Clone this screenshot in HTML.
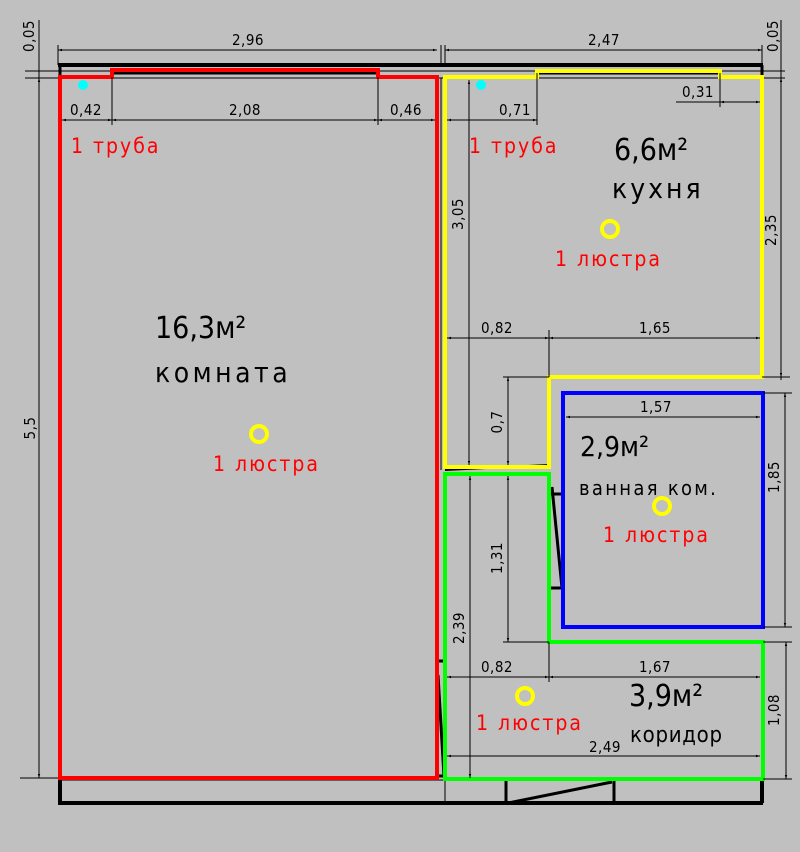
<!DOCTYPE html>
<html><head><meta charset="utf-8"><style>
html,body{margin:0;padding:0;background:#c0c0c0;}
svg{display:block}
text{font-family:"DejaVu Sans Condensed","DejaVu Sans","Liberation Sans",sans-serif;}
</style></head><body>
<svg width="800" height="852" viewBox="0 0 800 852" xmlns="http://www.w3.org/2000/svg">
<rect width="800" height="852" fill="#c0c0c0"/>
<defs>
<marker id="a" viewBox="0 0 10 10" refX="10" refY="5" markerWidth="7" markerHeight="4" orient="auto-start-reverse"><path d="M0,2 L10,5 L0,8z" fill="#000"/></marker>
</defs>
<g stroke="#000" fill="none">
<line x1="58" y1="65" x2="763" y2="65" stroke-width="4"/>
<line x1="25" y1="71" x2="785" y2="71" stroke-width="1"/>
<line x1="25" y1="78" x2="785" y2="78" stroke-width="1"/>
<line x1="60" y1="65" x2="60" y2="78" stroke-width="3"/>
<line x1="762" y1="65" x2="762" y2="78" stroke-width="3"/>
<line x1="112" y1="73" x2="378" y2="73" stroke-width="3"/>
<line x1="537" y1="73" x2="720" y2="73" stroke-width="3"/>
<line x1="58" y1="803" x2="763" y2="803" stroke-width="4"/>
<line x1="60" y1="778" x2="60" y2="803" stroke-width="4"/>
<line x1="762" y1="778" x2="762" y2="803" stroke-width="4"/>
<line x1="60" y1="780" x2="445" y2="780" stroke-width="1"/>
<line x1="445" y1="778" x2="445" y2="803" stroke-width="1"/>
<line x1="506" y1="780" x2="506" y2="803" stroke-width="3"/>
<line x1="614" y1="780" x2="614" y2="803" stroke-width="3"/>
<line x1="508" y1="803" x2="612" y2="782" stroke-width="3"/>
<line x1="438" y1="675" x2="444" y2="776" stroke-width="3"/>
<line x1="437" y1="661" x2="445" y2="661" stroke-width="3"/>
<line x1="437" y1="776" x2="445" y2="776" stroke-width="3"/>
<line x1="552" y1="487" x2="562" y2="588" stroke-width="3"/>
<line x1="549" y1="494" x2="563" y2="494" stroke-width="3"/>
<line x1="549" y1="588" x2="563" y2="588" stroke-width="3"/>
<line x1="445" y1="470" x2="549" y2="465" stroke-width="2"/>
<line x1="441" y1="78" x2="441" y2="470" stroke-width="1"/>
</g>
<path d="M60,778 V77 H112 V70 H378 V77 H437 V778 Z" fill="none" stroke="#ff0000" stroke-width="4"/>
<path d="M445,467 V77 H537 V71 H720 V77 H762 V377 H549 V467 Z" fill="none" stroke="#ffff00" stroke-width="4"/>
<rect x="563" y="393" width="200" height="234" fill="none" stroke="#0000ff" stroke-width="4"/>
<path d="M445,474 H549 V642 H763 V779 H445 Z" fill="none" stroke="#00ff00" stroke-width="4"/>
<g stroke="#000" stroke-width="1" fill="none">
<line x1="58" y1="50" x2="437" y2="50" marker-start="url(#a)" marker-end="url(#a)"/>
<line x1="445" y1="50" x2="762" y2="50" marker-start="url(#a)" marker-end="url(#a)"/>
<line x1="58" y1="45" x2="58" y2="65"/><line x1="441" y1="45" x2="441" y2="65"/><line x1="445" y1="45" x2="445" y2="65"/><line x1="762" y1="45" x2="762" y2="65"/>
<line x1="39" y1="20" x2="39" y2="778" /><line x1="781" y1="20" x2="781" y2="380"/>
<line x1="39" y1="78" x2="39" y2="778" marker-start="url(#a)" marker-end="url(#a)"/>
<line x1="20" y1="778" x2="58" y2="778"/>
<line x1="62" y1="120" x2="112" y2="120" marker-start="url(#a)" marker-end="url(#a)"/>
<line x1="112" y1="120" x2="378" y2="120" marker-start="url(#a)" marker-end="url(#a)"/>
<line x1="378" y1="120" x2="435" y2="120" marker-start="url(#a)" marker-end="url(#a)"/>
<line x1="112" y1="77" x2="112" y2="125"/><line x1="378" y1="77" x2="378" y2="125"/>
<line x1="447" y1="120" x2="537" y2="120" marker-start="url(#a)" marker-end="url(#a)"/>
<line x1="537" y1="73" x2="537" y2="125"/>
<line x1="720" y1="102" x2="760" y2="102" marker-start="url(#a)" marker-end="url(#a)"/>
<line x1="676" y1="102" x2="720" y2="102"/><line x1="720" y1="73" x2="720" y2="107"/>
<line x1="469" y1="80" x2="469" y2="338" marker-start="url(#a)"/>
<line x1="781" y1="78" x2="781" y2="377" marker-start="url(#a)" marker-end="url(#a)"/>
<line x1="762" y1="377" x2="790" y2="377"/>
<line x1="447" y1="338" x2="549" y2="338" marker-start="url(#a)" marker-end="url(#a)"/>
<line x1="549" y1="338" x2="760" y2="338" marker-start="url(#a)" marker-end="url(#a)"/>
<line x1="549" y1="330" x2="549" y2="377"/>
<line x1="469" y1="338" x2="469" y2="465" marker-end="url(#a)"/>
<line x1="508" y1="377" x2="508" y2="465" marker-start="url(#a)" marker-end="url(#a)"/>
<line x1="503" y1="377" x2="549" y2="377"/>
<line x1="508" y1="476" x2="508" y2="642" marker-start="url(#a)" marker-end="url(#a)"/>
<line x1="503" y1="642" x2="549" y2="642"/>
<line x1="470" y1="476" x2="470" y2="778" marker-start="url(#a)" marker-end="url(#a)"/>
<line x1="566" y1="417" x2="760" y2="417" marker-start="url(#a)" marker-end="url(#a)"/>
<line x1="785" y1="393" x2="785" y2="627" marker-start="url(#a)" marker-end="url(#a)"/>
<line x1="763" y1="393" x2="792" y2="393"/><line x1="763" y1="627" x2="792" y2="627"/>
<line x1="447" y1="677" x2="549" y2="677" marker-start="url(#a)" marker-end="url(#a)"/>
<line x1="549" y1="677" x2="760" y2="677" marker-start="url(#a)" marker-end="url(#a)"/>
<line x1="549" y1="642" x2="549" y2="682"/>
<line x1="447" y1="756" x2="760" y2="756" marker-start="url(#a)" marker-end="url(#a)"/>
<line x1="786" y1="642" x2="786" y2="779" marker-start="url(#a)" marker-end="url(#a)"/>
<line x1="763" y1="642" x2="792" y2="642"/><line x1="763" y1="779" x2="792" y2="779"/>
</g>
<g font-size="15" fill="#000" letter-spacing="0.5">
<text x="248" y="45" text-anchor="middle">2,96</text>
<text x="604" y="45" text-anchor="middle">2,47</text>
<text x="86" y="115" text-anchor="middle">0,42</text>
<text x="245" y="115" text-anchor="middle">2,08</text>
<text x="406" y="115" text-anchor="middle">0,46</text>
<text x="515" y="115" text-anchor="middle">0,71</text>
<text x="698" y="97" text-anchor="middle">0,31</text>
<text x="497" y="333" text-anchor="middle">0,82</text>
<text x="655" y="333" text-anchor="middle">1,65</text>
<text x="656" y="412" text-anchor="middle">1,57</text>
<text x="497" y="672" text-anchor="middle">0,82</text>
<text x="655" y="672" text-anchor="middle">1,67</text>
<text x="605" y="752" text-anchor="middle">2,49</text>
<text transform="translate(34,36) rotate(-90)" text-anchor="middle">0,05</text>
<text transform="translate(778,36) rotate(-90)" text-anchor="middle">0,05</text>
<text transform="translate(35,428) rotate(-90)" text-anchor="middle">5,5</text>
<text transform="translate(463,214) rotate(-90)" text-anchor="middle">3,05</text>
<text transform="translate(776,230) rotate(-90)" text-anchor="middle">2,35</text>
<text transform="translate(502,422) rotate(-90)" text-anchor="middle">0,7</text>
<text transform="translate(502,558) rotate(-90)" text-anchor="middle">1,31</text>
<text transform="translate(464,628) rotate(-90)" text-anchor="middle">2,39</text>
<text transform="translate(779,477) rotate(-90)" text-anchor="middle">1,85</text>
<text transform="translate(779,710) rotate(-90)" text-anchor="middle">1,08</text>
</g>
<g fill="#00ffff"><circle cx="83" cy="85" r="5"/><circle cx="481" cy="85" r="5"/></g>
<g fill="none" stroke="#ffff00" stroke-width="4">
<circle cx="610" cy="229" r="8"/><circle cx="259" cy="434" r="8"/><circle cx="662" cy="506" r="8"/><circle cx="525" cy="696" r="8"/>
</g>
<g fill="#ff0000" font-size="21" letter-spacing="2">
<text x="71" y="153">1 труба</text>
<text x="469" y="153">1 труба</text>
<text x="555" y="266">1 люстра</text>
<text x="213" y="471">1 люстра</text>
<text x="603" y="542">1 люстра</text>
<text x="476" y="730">1 люстра</text>
</g>
<g fill="#000">
<text x="614" y="160" font-size="30">6,6м²</text>
<text x="612" y="198" font-size="28" letter-spacing="3">кухня</text>
<text x="155" y="338" font-size="30">16,3м²</text>
<text x="155" y="382" font-size="28" letter-spacing="3.5">комната</text>
<text x="580" y="456" font-size="28">2,9м²</text>
<text x="579" y="495" font-size="20" letter-spacing="2.3">ванная ком.</text>
<text x="629" y="706" font-size="30">3,9м²</text>
<text x="630" y="742" font-size="22" letter-spacing="0.7">коридор</text>
</g>
</svg>
</body></html>
